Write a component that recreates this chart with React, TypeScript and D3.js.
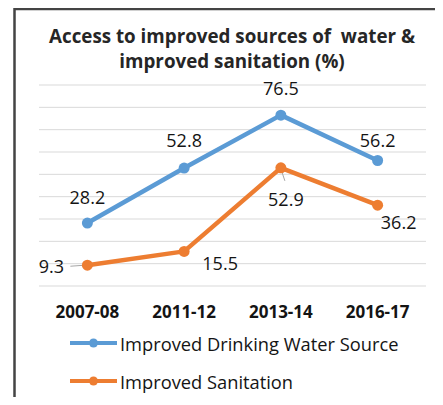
import React from "react";
import * as d3 from "d3";

const categories = ["2007-08", "2011-12", "2013-14", "2016-17"];
const waterValues = [28.2, 52.8, 76.5, 56.2];
const sanitationValues = [9.3, 15.5, 52.9, 36.2];
const seriesNames = ["Improved Drinking Water Source", "Improved Sanitation"];
const titleLines = ["Access to improved sources of  water &", "improved sanitation (%)"];
const gridTicks = d3.range(0, 100, 10);

const W = 443;
const H = 405;
const BLUE = "#5B9BD5";
const ORANGE = "#ED7D31";
const FONT = "'Open Sans', sans-serif";

export default function App() {
  const x = d3.scalePoint<string>().domain(categories).range([39, 426]).padding(0.5);
  const y = d3.scaleLinear().domain([0, 90]).range([286, 85]);
  const line = d3
    .line<number>()
    .x((_, i) => x(categories[i]) as number)
    .y((d) => y(d));

  const waterLabelOff: [number, number][] = [
    [0, -26],
    [0, -28],
    [0, -27],
    [0, -20],
  ];
  const sanLabelOff: [number, number][] = [
    [-36, 1],
    [36, 12],
    [5, 31],
    [21, 17],
  ];

  return (
    <div style={{ margin: -8, width: W, height: H, overflow: "hidden" }}>
      <svg width={W} height={H} style={{ display: "block", background: "#fff" }}>
        <path d="M14.5,405 L14.5,9 L443,9" fill="none" stroke="#444" strokeWidth={2.5} />
        {titleLines.map((t, i) => (
          <text
            key={i}
            x={232}
            y={43 + i * 25}
            textAnchor="middle"
            fontFamily={FONT}
            fontWeight={700}
            fontSize={18.8}
            fill="#262626"
            style={{ whiteSpace: "pre" }}
          >
            {t}
          </text>
        ))}
        {gridTicks.map((t) => (
          <line key={t} x1={39} x2={426} y1={y(t)} y2={y(t)} stroke="#d9d9d9" strokeWidth={1} />
        ))}
        <line
          x1={x(categories[0])! - 17}
          x2={x(categories[0])! - 3}
          y1={y(sanitationValues[0]) + 1}
          y2={y(sanitationValues[0])}
          stroke="#a6a6a6"
          strokeWidth={1}
        />
        <line
          x1={x(categories[2])! + 1}
          x2={x(categories[2])! + 4}
          y1={y(sanitationValues[2]) + 4}
          y2={y(sanitationValues[2]) + 13}
          stroke="#a6a6a6"
          strokeWidth={1}
        />
        <path d={line(waterValues) || ""} fill="none" stroke={BLUE} strokeWidth={4.5} strokeLinejoin="round" />
        <path d={line(sanitationValues) || ""} fill="none" stroke={ORANGE} strokeWidth={4.5} strokeLinejoin="round" />
        {waterValues.map((v, i) => (
          <circle key={"w" + i} cx={x(categories[i])} cy={y(v)} r={5.5} fill={BLUE} />
        ))}
        {sanitationValues.map((v, i) => (
          <circle key={"s" + i} cx={x(categories[i])} cy={y(v)} r={5.5} fill={ORANGE} />
        ))}
        {waterValues.map((v, i) => (
          <text
            key={"wl" + i}
            x={(x(categories[i]) as number) + waterLabelOff[i][0]}
            y={y(v) + waterLabelOff[i][1]}
            textAnchor="middle"
            dominantBaseline="central"
            fontFamily={FONT}
            fontWeight={500}
            fontSize={18}
            fill="#141414"
          >
            {v.toFixed(1)}
          </text>
        ))}
        {sanitationValues.map((v, i) => (
          <text
            key={"sl" + i}
            x={(x(categories[i]) as number) + sanLabelOff[i][0]}
            y={y(v) + sanLabelOff[i][1]}
            textAnchor="middle"
            dominantBaseline="central"
            fontFamily={FONT}
            fontWeight={500}
            fontSize={18}
            fill="#141414"
          >
            {v.toFixed(1)}
          </text>
        ))}
        {categories.map((c) => (
          <text
            key={c}
            x={x(c)}
            y={311}
            textAnchor="middle"
            dominantBaseline="central"
            fontFamily={FONT}
            fontWeight={700}
            fontSize={17}
            fill="#141414"
          >
            {c}
          </text>
        ))}
        {seriesNames.map((n, i) => {
          const ly = 343 + i * 38;
          const col = i === 0 ? BLUE : ORANGE;
          return (
            <g key={n}>
              <line x1={70} x2={117} y1={ly} y2={ly} stroke={col} strokeWidth={4} />
              <circle cx={93.5} cy={ly} r={4.5} fill={col} />
              <text
                x={120}
                y={ly}
                dominantBaseline="central"
                fontFamily={FONT}
                fontSize={18.3}
                fill="#141414"
              >
                {n}
              </text>
            </g>
          );
        })}
      </svg>
    </div>
  );
}
